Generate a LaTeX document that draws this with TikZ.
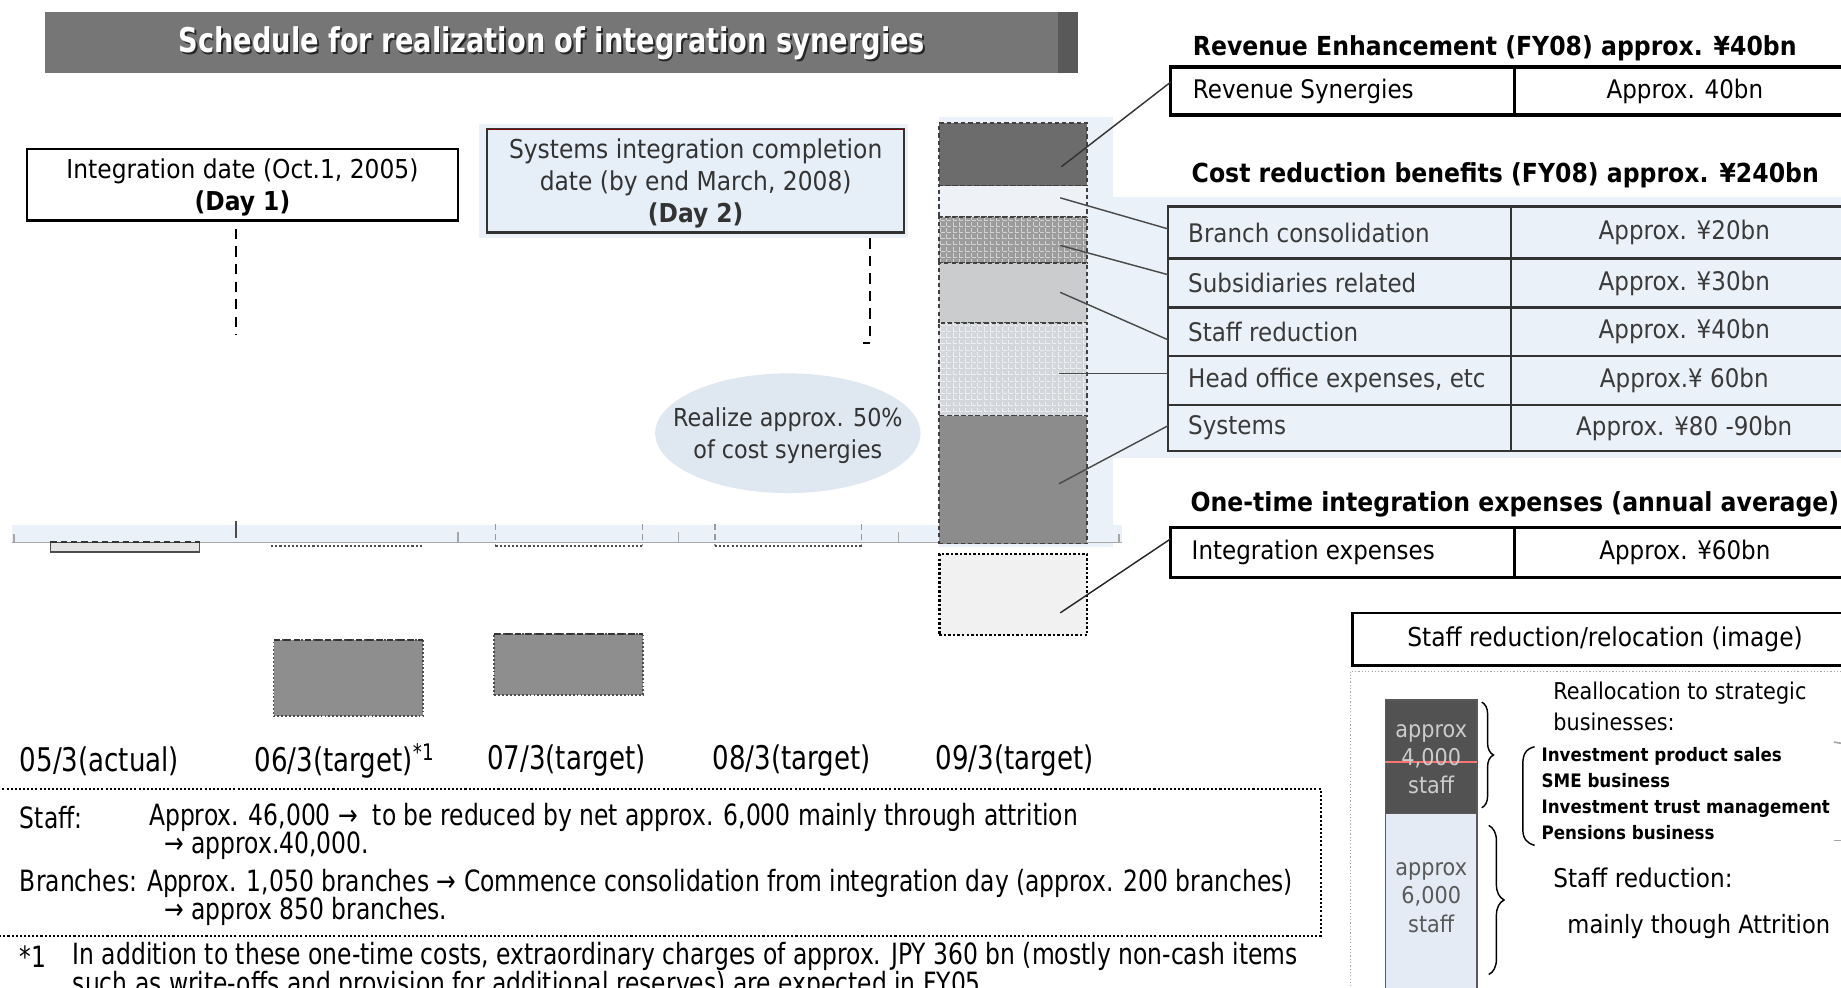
\documentclass[tikz,border=0pt]{standalone}
\usepackage{fontspec}
\setmainfont{DejaVu Sans}
\newfontfamily\cond{DejaVu Sans}[FakeStretch=0.9]
\newfontfamily\narrow{DejaVu Sans}[FakeStretch=0.8]
\usetikzlibrary{calc,shapes.geometric,decorations.pathreplacing,patterns}

\newcommand\setsz[2]{\fontsize{#1}{#2}\selectfont}
\newcommand\pxl[1]{#1*0.02cm}

\definecolor{paleblue}{HTML}{EBF1F8}
\definecolor{ellblue}{HTML}{DFE7F0}
\definecolor{dayblue}{HTML}{E6EEF7}
\definecolor{titlegray}{HTML}{767676}
\definecolor{tabink}{HTML}{3A3A3A}
\definecolor{leadgray}{HTML}{4A4A4A}
\definecolor{segrev}{HTML}{6C6C6C}
\definecolor{segbr}{HTML}{EEF2F6}
\definecolor{segsub}{HTML}{9C9C9C}
\definecolor{segstaff}{HTML}{CBCCCD}
\definecolor{seghead}{HTML}{D3D6DA}
\definecolor{segsys}{HTML}{8C8C8C}
\definecolor{segint}{HTML}{F1F1F1}
\definecolor{barfill}{HTML}{8E8E8E}
\definecolor{stackdark}{HTML}{525252}
\definecolor{stacklight}{HTML}{E4EBF4}

\begin{document}
\begin{tikzpicture}[x=0.02cm,y=-0.02cm,
  every node/.style={inner sep=0pt,outer sep=0pt},
  titletext/.style={font=\narrow\bfseries\setsz{16.5}{20}},
  daytext/.style={font=\cond\setsz{12.6}{15.4},align=center,text depth=0pt},
  daybox/.style={daytext,draw=black,line width=1.3pt,fill=white},
  guide/.style={draw=black,line width=1pt,dash pattern=on 5pt off 3.5pt},
  yearlbl/.style={anchor=west,font=\narrow\setsz{15.8}{19}},
  notetxt/.style={anchor=west,font=\narrow\setsz{14.2}{17}},
  seg/.style={anchor=north west,minimum width=\pxl{126},draw=black!75,line width=0.8pt,dash pattern=on 2pt off 1.5pt},
  minibar/.style={anchor=north west,minimum width=\pxl{127},fill=barfill,draw=black!70,line width=0.9pt,densely dotted},
  leader/.style={draw=leadgray,line width=0.7pt},
  headtxt/.style={anchor=west,font=\cond\bfseries\setsz{12.7}{15}},
  tabtxt/.style={anchor=west,font=\cond\setsz{12.4}{15}},
  valtxt/.style={font=\cond\setsz{12.4}{15}},
  cell/.style={anchor=north west},
  boldcell/.style={cell,draw=black,line width=1.6pt},
  costcell/.style={cell,draw=black!80,line width=1.2pt,text=tabink}
]
\useasboundingbox (0,0) rectangle (1568,841);
\clip (0,0) rectangle (1568,841);

% title bar
\fill[titlegray] (38,10) rectangle (918,62);
\fill[black!65] (901,10) rectangle (918,62);
\node[titletext,text=black!85] (titleshadow) at (471.5,38.5) {Schedule for realization of integration synergies};
\node[titletext,text=white] (title) at (470,37) {Schedule for realization of integration synergies};

% pale background panels
\fill[paleblue] (800,100) rectangle (948,466);
\fill[paleblue] (940,168) rectangle (1568,390);
\fill[paleblue] (10,447) rectangle (956,462);

% milestone boxes
\node[daybox,minimum width=\pxl{367},minimum height=\pxl{61}] (day1) at (206.5,157.5)
  {Integration date (Oct.1, 2005)\\\textbf{(Day 1)}};
\fill[paleblue] (408,106) rectangle (773,203);
\node[daytext,draw=black!80,line width=1.1pt,fill=dayblue,text=black!80,
      minimum width=\pxl{355},minimum height=\pxl{88}] (day2) at (592.5,154)
  {Systems integration completion\\date (by end March, 2008)\\\textbf{(Day 2)}};
\draw[red!50!black,line width=0.5pt] (day2.north west) -- (day2.north east);

\coordinate (d1end) at (201,285);
\coordinate (d2end) at (741,292);
\draw[guide] ($(day1.south -| d1end)+(0,7)$) -- (d1end);
\draw[guide] ($(day2.south -| d2end)+(0,5)$) -- (d2end);
\draw[black,line width=0.8pt] (d2end) -- ++(-6,0);

% cost synergy bubble
\fill[ellblue] (671,369) ellipse [x radius=2.26cm, y radius=1.02cm];
\node[align=center,font=\cond\setsz{12}{15.4},text=black!80] (half) at (671,371)
  {Realize approx. 50\%\\of cost synergies};

% time axis
\draw[gray!70,line width=0.8pt] (10,462) -- (956,462);
\foreach \tx/\ty in {12/455,390/453,578/453,765/453,953/455}
  \draw[gray!70,line width=0.6pt] (\tx,\ty) -- (\tx,462);
\draw[black!70,line width=1pt] (201,444) -- (201,458);
\foreach \tx in {422,547,609,734}
  \draw[gray!80,densely dashed,line width=0.6pt] (\tx,446) -- (\tx,465);
\foreach \xa/\xb in {231/359,422/547,609/734}
  \draw[black!70,densely dotted,line width=1pt] (\xa,465) -- (\xb,465);
\node[anchor=north west,minimum width=\pxl{127},minimum height=\pxl{8},fill=gray!22,
      draw=black!70,line width=0.7pt] (bar05) at (43,462) {};
\draw[black!80,line width=1pt,densely dashed] (bar05.north west) -- (bar05.north east);

% one-time cost bars
\node[minibar,minimum height=\pxl{65}] (bar06) at (233,545) {};
\draw[black!80,line width=1.3pt,densely dashed] (bar06.north west) -- (bar06.north east);
\node[minibar,minimum height=\pxl{52}] (bar07) at (421,540) {};
\draw[black!80,line width=1.3pt,densely dashed] (bar07.north west) -- (bar07.north east);

% synergy bar for 09/3
\node[seg,fill=segrev,minimum height=\pxl{53}] (segrev) at (800,105) {};
\node[seg,fill=segbr,minimum height=\pxl{27}] (segbr) at (800,158) {};
\node[seg,preaction={fill=segsub},pattern=grid,pattern color=white!55!segsub,minimum height=\pxl{39}] (segsub) at (800,185) {};
\node[seg,fill=segstaff,minimum height=\pxl{51}] (segstaff) at (800,224) {};
\node[seg,preaction={fill=seghead},pattern=grid,pattern color=white!60!seghead,minimum height=\pxl{79}] (seghead) at (800,275) {};
\node[seg,fill=segsys,minimum height=\pxl{109}] (segsys) at (800,354) {};
\node[anchor=north west,minimum width=\pxl{126},minimum height=\pxl{69},fill=segint,
      draw=black,line width=1.2pt,densely dotted] (segint) at (800,472) {};

% year labels
\node[yearlbl] (y05) at (17,648) {05/3(actual)};
\node[yearlbl] (y06) at (217,648) {06/3(target)\textsuperscript{*1}};
\node[yearlbl] (y07) at (415,648) {07/3(target)};
\node[yearlbl] (y08) at (607,648) {08/3(target)};
\node[yearlbl] (y09) at (797,648) {09/3(target)};

% staff and branch notes
\draw[black,line width=1pt,densely dotted] (-5,672) -- (1125,672) -- (1125,797) -- (-5,797);
\node[notetxt] (nstaff) at (17,696) {Staff:};
\node[notetxt] (nstaff2) at (127,696) {Approx. 46,000 →\ \ to be reduced by net approx. 6,000 mainly through attrition};
\node[notetxt] (nstaff3) at (140,720) {→ approx.40,000.};
\node[notetxt] (nbr) at (17,752) {Branches: Approx. 1,050 branches → Commence consolidation from integration day (approx. 200 branches)};
\node[notetxt] (nbr2) at (140,776) {→ approx 850 branches.};
\node[notetxt] (fnmark) at (17,815) {*1};
\node[notetxt] (fn1) at (62,815) {In addition to these one-time costs, extraordinary charges of approx. JPY 360 bn (mostly non-cash items};
\node[notetxt] (fn2) at (62,839) {such as write-offs and provision for additional reserves) are expected in FY05.};

% revenue table
\node[headtxt] (hrev) at (1016,41) {Revenue Enhancement (FY08) approx. ¥40bn};
\node[boldcell,minimum width=\pxl{293},minimum height=\pxl{41}] (revL) at (997,57) {};
\node[boldcell,valtxt,minimum width=\pxl{290},minimum height=\pxl{41}] (revR) at (1290,57) {Approx. 40bn};
\node[tabtxt] (revLt) at ($(revL.west)+(19,0)$) {Revenue Synergies};

% cost reduction table
\node[headtxt] (hcost) at (1015,149) {Cost reduction benefits (FY08) approx. ¥240bn};
\node[costcell,minimum width=\pxl{292},minimum height=\pxl{44}] (brL) at (995,176) {};
\node[costcell,valtxt,minimum width=\pxl{295},minimum height=\pxl{44}] (brR) at (1287,176) {Approx. ¥20bn};
\node[costcell,minimum width=\pxl{292},minimum height=\pxl{42}] (subL) at (995,220) {};
\node[costcell,valtxt,minimum width=\pxl{295},minimum height=\pxl{42}] (subR) at (1287,220) {Approx. ¥30bn};
\node[costcell,minimum width=\pxl{292},minimum height=\pxl{41}] (staffL) at (995,262) {};
\node[costcell,valtxt,minimum width=\pxl{295},minimum height=\pxl{41}] (staffR) at (1287,262) {Approx. ¥40bn};
\node[costcell,minimum width=\pxl{292},minimum height=\pxl{42}] (headL) at (995,303) {};
\node[costcell,valtxt,minimum width=\pxl{295},minimum height=\pxl{42}] (headR) at (1287,303) {Approx.¥ 60bn};
\node[costcell,minimum width=\pxl{292},minimum height=\pxl{39}] (sysL) at (995,345) {};
\node[costcell,valtxt,minimum width=\pxl{295},minimum height=\pxl{39}] (sysR) at (1287,345) {Approx. ¥80 -90bn};
\node[tabtxt,text=tabink] (brLt) at ($(brL.west)+(17,0)$) {Branch consolidation};
\node[tabtxt,text=tabink] (subLt) at ($(subL.west)+(17,0)$) {Subsidiaries related};
\node[tabtxt,text=tabink] (staffLt) at ($(staffL.west)+(17,0)$) {Staff reduction};
\node[tabtxt,text=tabink] (headLt) at ($(headL.west)+(17,0)$) {Head office expenses, etc};
\node[tabtxt,text=tabink] (sysLt) at ($(sysL.west)+(17,0)$) {Systems};

% integration expenses table
\node[headtxt] (hint) at (1014,430) {One-time integration expenses (annual average)};
\node[boldcell,minimum width=\pxl{293},minimum height=\pxl{43}] (intL) at (997,449) {};
\node[boldcell,valtxt,minimum width=\pxl{290},minimum height=\pxl{43}] (intR) at (1290,449) {Approx. ¥60bn};
\node[tabtxt] (intLt) at ($(intL.west)+(18,0)$) {Integration expenses};

% leaders from bar segments to table rows
\draw[leader,draw=black!80] ($(segrev.south east)+(-22,-16)$) -- ($(revL.north west)+(0,13)$);
\draw[leader] ($(segbr.north east)+(-23,10.5)$) -- ($(brL.west)+(0,-3)$);
\draw[leader] ($(segsub.north east)+(-23,24)$) -- ($(subL.west)+(0,-7)$);
\draw[leader] ($(segstaff.north east)+(-23,25)$) -- ($(staffL.west)+(0,7)$);
\draw[leader] ($(seghead.north east)+(-24,43)$) -- ($(headL.west)+(0,-6)$);
\draw[leader] ($(segsys.north east)+(-24,58)$) -- ($(sysL.west)+(0,-2)$);
\draw[leader,draw=black!85] ($(segint.north east)+(-23,50)$) -- ($(intL.north west)+(0,10)$);

% staff reduction / relocation panel
\node[anchor=north west,draw=black,line width=1.3pt,minimum width=\pxl{430},minimum height=\pxl{45},
      font=\cond\setsz{12.6}{15}] (staffhd) at (1152,522) {Staff reduction/relocation (image)};
\draw[gray!70,densely dotted,line width=0.6pt] (1150,572) rectangle (1590,850);
\node[anchor=north west,fill=stackdark,draw=black!65,line width=0.8pt,
      minimum width=\pxl{78},minimum height=\pxl{97}] (s4k) at (1180,596) {};
\node[anchor=north west,fill=stacklight,draw=black!65,line width=0.8pt,
      minimum width=\pxl{78},minimum height=\pxl{160}] (s6k) at (1180,693) {};
\draw[red!55,line width=0.7pt] ($(s4k.west)+(0,4.5)$) -- ($(s4k.east)+(0,4.5)$);
\node[font=\cond\setsz{11.2}{13.7},text=black!20,align=center] (s4kt) at ($(s4k.center)+(0,2)$) {approx\\4,000\\staff};
\node[font=\cond\setsz{11.2}{13.7},text=black!65,align=center] (s6kt) at ($(s6k.north)+(0,71.5)$) {approx\\6,000\\staff};
\draw[decorate,decoration={brace,amplitude=0.2cm},line width=0.7pt]
  ($(s4k.north east)+(4,2)$) -- ($(s4k.south east)+(4,-5)$);
\draw[decorate,decoration={brace,amplitude=0.26cm},line width=0.7pt]
  ($(s6k.north east)+(10,10)$) -- ($(s6k.north east)+(10,137)$);
\draw[line width=0.7pt] (1307,636) .. controls (1299,638) and (1297,643) .. (1297,651)
  -- (1297,706) .. controls (1297,714) and (1300,718) .. (1307,720);
\node[anchor=west,font=\cond\setsz{11.2}{14}] (realloc) at (1323,590) {Reallocation to strategic};
\node[anchor=west,font=\cond\setsz{11.2}{14}] (realloc2) at (1323,615) {businesses:};
\node[anchor=west,align=left,font=\cond\bfseries\setsz{9}{12.5}] (bizlist) at (1313,676)
  {Investment product sales\\SME business\\Investment trust management\\Pensions business};
\node[anchor=west,font=\cond\setsz{12.5}{15}] (sred) at (1323,748) {Staff reduction:};
\node[anchor=west,font=\cond\setsz{12.2}{15}] (attr) at (1335,789) {mainly though Attrition};
\draw[gray!70,line width=0.8pt] (1562,632) -- (1568,633);
\draw[gray!70,line width=0.8pt] (1562,716) -- (1568,716);
\end{tikzpicture}
\end{document}
